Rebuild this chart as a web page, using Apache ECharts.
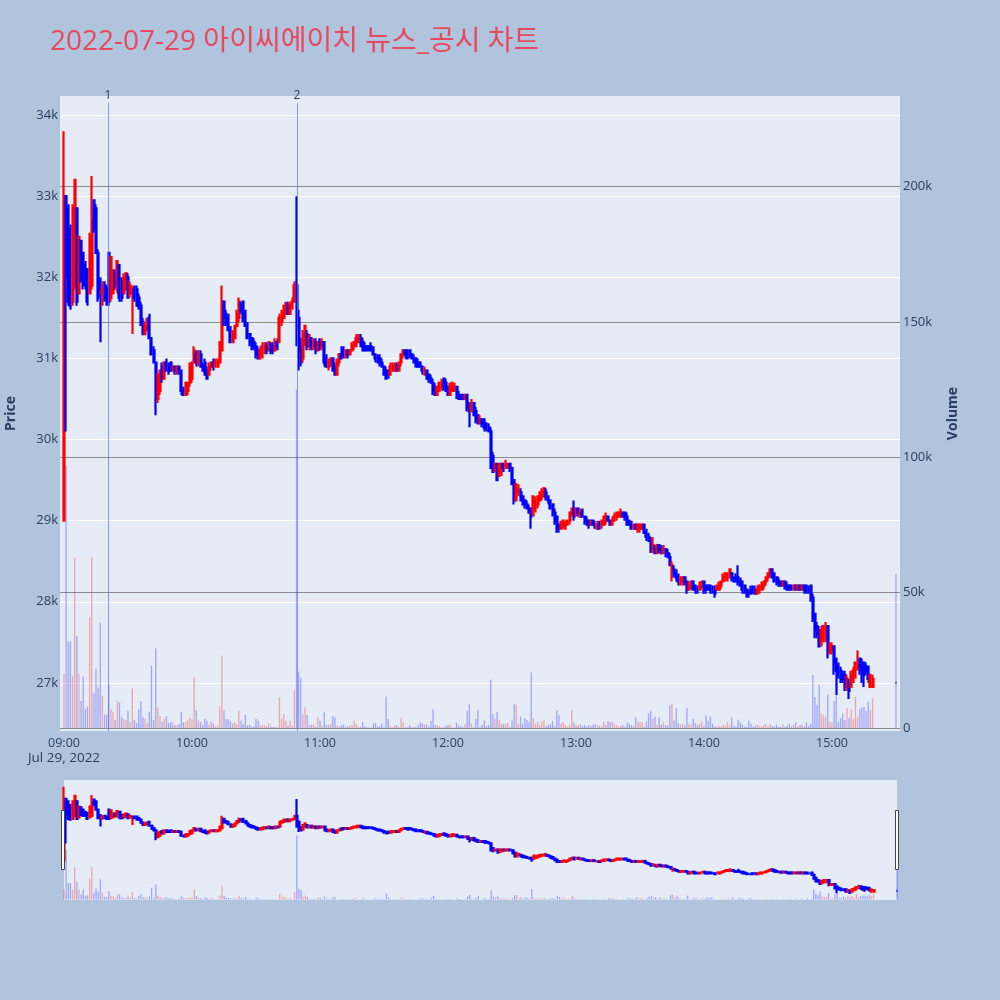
<!DOCTYPE html>
<html><head><meta charset="utf-8">
<script src="https://cdn.jsdelivr.net/npm/echarts@6/dist/echarts.min.js"></script>
<style>html,body{margin:0;padding:0;background:#b0c4de;}#main{width:1000px;height:1000px;}</style>
</head><body><div id="main"></div>
<script>
const titleText = '2022-07-29 아이씨에이치 뉴스_공시 차트';
const hourLabels = ['09:00','10:00','11:00','12:00','13:00','14:00','15:00'];
const dateLabel = 'Jul 29, 2022';
const priceTicks = [27000,28000,29000,30000,31000,32000,33000,34000];
const volumeTicks = [0,50000,100000,150000,200000];
const newsTimes = ['09:20:36','10:49:12'];
const newsLabels = ['1','2'];

// [open, close, low, high] per minute
const c09 = [
[29000,33000,29000,33800],[33000,32000,30100,33000],[32850,31700,31650,32900],[32600,31650,31600,32650],[31700,32850,31650,32900],
[31900,33200,31850,33200],[32850,31700,31650,32850],[31800,32500,31800,32500],[32450,31950,31950,32450],[32300,31900,31850,32300],
[32150,31900,31850,32200],[32100,31700,31650,32100],[31800,32500,31800,32550],[31900,32700,31850,33250],[32950,32600,32550,32950],
[32850,32300,32300,32900],[32300,31750,31700,32350],[31950,31850,31200,32000],[31800,31850,31650,31950],[31900,31750,31700,31950],
[31850,31700,31650,31900],[32300,31700,31650,32300],[31750,32250,31700,32250],[31800,32050,31800,32100],[32050,31900,31850,32100],
[31850,32200,31800,32200],[32150,31750,31700,32150],[31950,31750,31700,32000],[31800,32000,31800,32050],[31850,32050,31850,32050],
[32000,31750,31750,32050],[31800,31900,31750,31950],[31800,31850,31300,31900],[31850,31750,31700,31900],[31850,31650,31650,31900],
[31750,31650,31600,31800],[31650,31450,31400,31700],[31450,31300,31300,31500],[31300,31400,31300,31450],[31350,31450,31350,31500],
[31500,31250,31250,31550],[31250,31050,31050,31250],[31100,30950,30950,31150],[30950,30500,30300,30950],[30500,30800,30450,30800],
[30600,30850,30550,30850],[30900,30750,30700,30950],[30750,30950,30750,30950],[30950,30850,30850,31000],[30900,30850,30800,30950],
[30950,30850,30850,30950],[30850,30900,30850,30900],[30900,30850,30800,30900],[30850,30900,30800,30900],[30900,30850,30800,30900],
[30850,30600,30550,30850],[30600,30550,30550,30650],[30550,30700,30550,30700],[30600,30700,30550,30700],[30700,30900,30650,30950]];
const c10 = [
[30750,30950,30700,30950],[30950,31100,30950,31150],[31050,30950,30900,31100],[30950,31050,30900,31100],[31050,30900,30900,31100],
[30900,30850,30850,30950],[30950,30800,30800,31000],[30850,30750,30750,30900],[30800,30900,30800,30950],[30900,30950,30850,30950],
[30950,30900,30850,31000],[30900,30950,30900,31000],[30900,30950,30900,31000],[30950,31200,30950,31200],[31100,31700,31100,31900],
[31700,31500,31400,31700],[31550,31450,31400,31600],[31500,31350,31350,31550],[31350,31200,31200,31400],[31200,31300,31200,31350],
[31250,31400,31250,31400],[31400,31550,31400,31600],[31500,31700,31450,31750],[31650,31600,31550,31700],[31700,31500,31450,31700],
[31550,31400,31400,31600],[31400,31250,31250,31450],[31300,31200,31150,31300],[31250,31150,31100,31250],[31200,31150,31100,31250],
[31150,31050,31000,31200],[31100,31000,31000,31150],[31000,31100,31000,31150],[31050,31150,31000,31200],[31100,31150,31050,31200],
[31150,31100,31050,31200],[31100,31200,31100,31200],[31150,31100,31050,31200],[31150,31100,31050,31200],[31100,31200,31100,31250],
[31200,31150,31100,31250],[31200,31500,31200,31550],[31450,31550,31400,31600],[31500,31650,31500,31650],[31550,31650,31550,31700],
[31650,31550,31550,31700],[31550,31650,31550,31700],[31650,31700,31600,31750],[31700,31900,31700,31950],[31900,31200,31150,33000],
[31500,31100,30850,31600],[31150,30950,30900,31250],[31000,31300,30950,31350],[31200,31400,31150,31400],[31300,31150,31100,31350],
[31150,31250,31100,31300],[31250,31150,31100,31250],[31150,31200,31100,31250],[31200,31100,31050,31250],[31100,31200,31100,31200]];
const c11 = [
[31200,31150,31100,31250],[31150,31200,31100,31250],[31200,30950,30900,31200],[31000,30900,30900,31050],[30900,30950,30850,31000],
[30950,31000,30900,31000],[31000,30850,30850,31000],[30900,30800,30800,30950],[30800,30950,30800,31000],[30950,31050,30900,31050],
[31050,31000,31000,31150],[31100,31050,31000,31150],[31050,31100,31000,31100],[31100,31050,31000,31100],[31050,31100,31050,31100],
[31100,31150,31100,31200],[31150,31200,31100,31200],[31150,31250,31150,31300],[31200,31250,31200,31300],[31250,31150,31150,31300],
[31200,31100,31100,31250],[31150,31100,31100,31200],[31150,31100,31100,31150],[31150,31100,31100,31150],[31150,31100,31100,31200],
[31100,31050,31050,31150],[31050,31000,30950,31050],[31000,30950,30950,31050],[31000,30950,30900,31050],[30950,30900,30900,31000],
[30900,30800,30800,30900],[30850,30750,30750,30900],[30850,30800,30750,30850],[30800,30900,30800,30950],[30850,30900,30850,30950],
[30850,30900,30850,30950],[30900,30850,30850,30950],[30850,30950,30850,30950],[30950,31050,30900,31050],[31050,31100,31000,31100],
[31100,31050,31000,31100],[31100,31000,31000,31100],[31100,31050,31000,31100],[31050,31000,31000,31050],[31000,30950,30950,31050],
[31000,30900,30900,31000],[30950,30900,30900,31000],[30950,30900,30900,30950],[30900,30850,30800,30900],[30800,30850,30800,30900],
[30850,30750,30750,30850],[30800,30750,30700,30800],[30750,30700,30700,30800],[30700,30600,30550,30750],[30650,30550,30550,30700],
[30550,30650,30550,30650],[30600,30700,30600,30700],[30650,30700,30600,30750],[30750,30650,30600,30750],[30700,30600,30600,30750]];
const c12 = [
[30650,30550,30550,30650],[30550,30650,30550,30700],[30600,30700,30600,30700],[30600,30650,30600,30700],[30650,30550,30500,30650],
[30550,30500,30500,30600],[30550,30500,30500,30550],[30550,30500,30500,30550],[30500,30550,30500,30550],[30550,30400,30350,30550],
[30450,30350,30150,30450],[30350,30450,30350,30500],[30450,30300,30300,30450],[30350,30250,30200,30400],[30300,30200,30200,30300],
[30200,30250,30200,30300],[30250,30200,30150,30250],[30250,30150,30100,30250],[30200,30150,30100,30200],[30150,30100,30100,30200],
[30100,29650,29650,30150],[29800,29600,29600,29850],[29650,29700,29600,29700],[29700,29500,29500,29700],[29550,29700,29550,29700],
[29600,29700,29550,29700],[29700,29650,29600,29700],[29650,29700,29650,29750],[29650,29700,29650,29700],[29700,29650,29600,29700],
[29650,29450,29450,29650],[29500,29250,29200,29500],[29250,29450,29250,29450],[29350,29400,29300,29450],[29350,29250,29250,29400],
[29300,29200,29200,29300],[29250,29200,29150,29250],[29200,29150,29150,29250],[29150,29100,29100,29200],[29150,29050,28900,29150],
[29100,29300,29050,29300],[29150,29250,29100,29300],[29200,29300,29150,29300],[29250,29350,29250,29350],[29300,29350,29250,29400],
[29300,29400,29300,29400],[29350,29300,29250,29400],[29300,29250,29200,29300],[29250,29150,29150,29250],[29200,29100,29050,29200],
[29100,29000,28950,29150],[29050,28900,28850,29050],[28950,28900,28850,28950],[28900,28950,28900,29000],[28950,29000,28900,29000],
[28900,28950,28900,29000],[28950,29000,28950,29000],[29000,29100,28950,29100],[29100,29150,29050,29150],[29150,29050,29000,29250]];
const c13 = [
[29100,29150,29050,29150],[29150,29100,29050,29150],[29050,29100,29050,29150],[29100,29050,29050,29150],[29050,29000,28950,29050],
[29000,28950,28950,29050],[29000,28950,28900,29000],[28950,29000,28950,29000],[29000,28950,28950,29000],[28950,28950,28900,29000],
[28900,28950,28900,29000],[28950,28900,28900,29000],[28950,29000,28900,29000],[28950,29050,28950,29050],[29000,29050,28950,29100],
[29050,29000,29000,29050],[29000,28950,28950,29000],[28950,29000,28950,29050],[29000,29050,29000,29100],[29050,29100,29000,29100],
[29050,29100,29050,29100],[29050,29100,29050,29150],[29100,29050,29050,29100],[29100,29050,29000,29100],[29050,28950,28950,29100],
[29000,28950,28950,29000],[28950,28900,28900,29000],[28900,28950,28900,28950],[28950,28900,28900,28950],[28900,28950,28850,28950],
[28900,28950,28850,28950],[28900,28950,28900,28950],[28950,28850,28850,28950],[28850,28800,28750,28900],[28800,28750,28750,28850],
[28750,28650,28600,28800],[28650,28700,28600,28800],[28650,28600,28600,28700],[28600,28700,28600,28700],[28700,28650,28600,28700],
[28650,28600,28600,28700],[28600,28650,28600,28700],[28650,28600,28550,28650],[28600,28550,28550,28650],[28550,28450,28450,28600],
[28400,28450,28250,28500],[28400,28350,28300,28450],[28350,28300,28250,28400],[28300,28250,28200,28350],[28250,28300,28200,28300],
[28250,28300,28200,28300],[28300,28250,28200,28300],[28250,28150,28100,28250],[28150,28200,28150,28250],[28200,28250,28150,28250],
[28250,28150,28150,28250],[28200,28150,28100,28200],[28150,28150,28100,28200],[28150,28200,28150,28250],[28200,28250,28150,28250]];
const c14 = [
[28250,28150,28100,28250],[28200,28150,28100,28200],[28200,28150,28150,28200],[28200,28150,28100,28200],[28150,28150,28100,28200],
[28150,28100,28050,28200],[28150,28200,28150,28200],[28150,28200,28150,28250],[28200,28250,28150,28250],[28250,28300,28250,28350],
[28300,28350,28250,28350],[28300,28350,28250,28350],[28300,28400,28300,28400],[28350,28300,28250,28350],[28300,28250,28250,28300],
[28300,28250,28250,28350],[28300,28250,28200,28450],[28250,28200,28200,28300],[28250,28150,28100,28250],[28200,28150,28100,28200],
[28150,28100,28050,28150],[28100,28100,28050,28150],[28150,28100,28100,28200],[28150,28150,28100,28200],[28150,28100,28100,28200],
[28100,28150,28100,28200],[28150,28200,28100,28200],[28150,28200,28150,28250],[28200,28250,28150,28250],[28250,28300,28200,28300],
[28300,28350,28250,28350],[28350,28400,28300,28400],[28400,28300,28300,28400],[28350,28250,28250,28350],[28300,28250,28200,28300],
[28250,28200,28200,28300],[28250,28200,28200,28250],[28200,28250,28200,28250],[28250,28200,28150,28250],[28200,28150,28150,28250],
[28200,28150,28150,28200],[28200,28150,28150,28200],[28150,28200,28150,28200],[28200,28150,28150,28200],[28150,28200,28150,28200],
[28200,28150,28150,28200],[28150,28200,28150,28200],[28200,28150,28100,28200],[28200,28150,28100,28200],[28150,28150,28100,28200],
[28200,28050,28000,28200],[28050,27800,27750,28100],[27850,27650,27550,27850],[27700,27600,27550,27750],[27650,27450,27450,27700],
[27500,27650,27450,27700],[27550,27700,27500,27700],[27600,27700,27500,27750],[27700,27400,27300,27700],[27400,27450,27350,27500]];
const c15 = [
[27400,27450,27350,27500],[27450,27250,27100,27450],[27300,27150,26850,27300],[27200,27100,27050,27250],[27150,27050,27000,27200],
[27100,27050,27000,27150],[27100,26950,26900,27150],[26950,27050,26900,27100],[27000,26900,26800,27050],[26950,27100,26950,27150],
[27050,27150,27000,27200],[27100,27250,27050,27250],[27200,27250,27150,27400],[27300,27150,27100,27300],[27250,27100,27000,27300],
[27250,27100,26950,27250],[27200,27150,27100,27250],[27200,27050,27000,27200],[26950,27100,26950,27100],[26950,27050,26950,27100]];
const closeAuctionTime = '15:30';
const closeAuctionCandle = [27000,27000,27000,27000];

const v09 = [20000,97000,32000,32000,19000,63000,34000,20000,10000,19000,7000,8000,41000,63000,13000,22000,15000,39000,12000,5000,
5000,16000,7000,6000,3000,10000,9500,4000,3300,3000,6300,2100,14700,3000,1800,6900,10000,4200,3400,1800,
6000,23000,3000,29500,7500,4400,2200,3400,4400,1800,2100,2100,1000,1000,1500,5900,2100,2100,2800,3700];
const v10 = [3200,18800,6600,2800,2100,1000,3300,2800,1200,2600,1700,600,900,7900,26700,6600,3300,3300,2500,1800,
2200,1200,6300,2800,1500,4800,1000,1200,400,600,3300,2700,1100,1000,1000,600,1800,600,400,400,
300,11300,3400,5200,2700,900,2700,900,14000,125000,20900,18600,5200,7600,4800,1000,1200,1500,600,4000];
const v11 = [2700,900,5800,1100,1200,1500,4400,4000,900,600,900,1200,600,600,900,1000,2800,1500,600,400,
2200,600,200,200,200,1600,1800,700,700,1800,300,11600,3300,600,300,900,900,300,3800,2300,
300,300,1000,300,300,300,1100,2000,1700,1300,1300,500,2600,6900,1100,1000,700,300,300,700];
const v12 = [1000,1300,300,300,2000,800,700,300,1500,6300,8800,1700,300,3300,6700,500,1100,2700,700,1100,
17800,5200,3500,5900,3000,1700,1500,1500,2000,300,2800,8800,8800,1600,4200,1700,3600,3000,2200,20500,
3600,1500,2300,1200,2300,3000,700,1300,1300,2600,700,6700,4700,1700,2200,1100,500,1200,6600,2100];
const v13 = [1200,800,1500,800,1200,600,1000,800,1300,1500,1000,800,600,2400,1200,2500,2200,2400,1500,1100,
600,800,1000,500,2100,1600,1200,800,4000,2400,2200,2200,500,2400,5500,6200,3400,4300,1100,4000,
1200,2200,1100,800,8400,8800,2800,7300,1800,1200,1500,800,7400,1500,1200,3300,1800,1200,1600,2400];
const v14 = [700,4600,2600,4300,1600,600,500,800,600,1100,800,2200,1200,3900,800,600,3100,2100,1200,500,
500,2800,1600,500,800,1100,700,500,1100,1500,500,1500,800,500,1200,500,500,1500,500,800,
1600,500,1200,2100,500,1100,1200,600,2100,800,1500,19600,11500,8600,16000,5200,4800,4200,12400,2200];
const v15 = [2100,10000,12600,2400,3700,5300,3000,7300,3700,6900,3400,11500,4200,6900,7600,7900,6200,9700,6600,11000];
const closeAuctionVolume = 57000;

const hourBlocks = [['09:00',c09,v09],['10:00',c10,v10],['11:00',c11,v11],['12:00',c12,v12],['13:00',c13,v13],['14:00',c14,v14],['15:00',c15,v15]];

function toMin(s){ const p = s.split(':').map(Number); return (p[0]-9)*60 + p[1] + (p[2]||0)/60; }

const UP = '#ff0000', DOWN = '#0000ff';
const rows = [];
hourBlocks.forEach(([start, cs, vs]) => {
  const base = toMin(start);
  cs.forEach((c, i) => rows.push({t: base + i, ohlc: c, vol: vs[i]}));
});
rows.push({t: toMin(closeAuctionTime), ohlc: closeAuctionCandle, vol: closeAuctionVolume});

const candleData = rows.map(r => {
  const item = {value: [r.t].concat(r.ohlc)};
  if (r.ohlc[1] === r.ohlc[0]) item.itemStyle = {color: DOWN, color0: DOWN, borderColor: DOWN, borderColor0: DOWN};
  return item;
});
const volData = rows.map(r => ({
  value: [r.t, r.vol],
  itemStyle: {color: r.ohlc[1] > r.ohlc[0] ? 'rgba(255,0,0,0.3)' : 'rgba(0,0,255,0.3)'}
}));

const PMIN = 26407, PMAX = 34235, VMIN = -1100, VMAX = 233500;
const FONT = '"Open Sans", "Noto Sans CJK KR", sans-serif';
const TXT = '#2a3f5f';
const NEWS_COLOR = 'rgba(99,110,250,0.7)';

const candleStyle = {color: UP, color0: DOWN, borderColor: UP, borderColor0: DOWN, borderWidth: 2.2};

const chart = echarts.init(document.getElementById('main'));
chart.setOption({
  animation: false,
  backgroundColor: '#b0c4de',
  textStyle: {fontFamily: FONT},
  title: {text: titleText, left: 45, top: 23, textStyle: {fontSize: 28, fontWeight: 'normal', color: '#e8495f', fontFamily: FONT}},
  grid: [
    {left: 60, top: 96, width: 840, height: 635, show: true, backgroundColor: '#e5ecf6', borderWidth: 0, outerBoundsMode: 'none', containLabel: false},
    {left: 64, top: 780, width: 833, height: 120, show: true, backgroundColor: '#e5ecf6', borderWidth: 0, outerBoundsMode: 'none', containLabel: false}
  ],
  xAxis: [
    {type: 'value', gridIndex: 0, min: -1.875, max: 391.875,
     axisLine: {show: false}, axisTick: {show: false}, splitLine: {show: false},
     axisLabel: {customValues: hourLabels.map(toMin), color: TXT, fontSize: 12.5, margin: 5, lineHeight: 15,
       formatter: v => { const i = Math.round(v/60); return i === 0 ? hourLabels[i] + '\n{d|' + dateLabel + '}' : hourLabels[i]; },
       rich: {d: {fontSize: 13.5, color: TXT, lineHeight: 15, fontFamily: FONT}}}},
    {type: 'value', gridIndex: 1, min: 0, max: toMin(closeAuctionTime), show: false}
  ],
  yAxis: [
    {type: 'value', gridIndex: 0, position: 'left', min: PMIN, max: PMAX,
     name: 'Price', nameLocation: 'middle', nameRotate: 90, nameGap: 42,
     nameTextStyle: {fontWeight: 'bold', fontSize: 14, color: TXT},
     axisLine: {show: false}, axisTick: {show: false, customValues: priceTicks},
     axisLabel: {customValues: priceTicks, color: TXT, fontSize: 13, margin: 2, formatter: v => (v/1000) + 'k'},
     splitLine: {show: true, lineStyle: {color: '#ffffff', width: 1}}},
    {type: 'value', gridIndex: 0, position: 'right', min: VMIN, max: VMAX,
     name: 'Volume', nameLocation: 'middle', nameRotate: 90, nameGap: 46,
     nameTextStyle: {fontWeight: 'bold', fontSize: 14, color: TXT},
     axisLine: {show: false}, axisTick: {show: false, customValues: volumeTicks},
     axisLabel: {customValues: volumeTicks, color: TXT, fontSize: 13, margin: 3, formatter: v => v === 0 ? '0' : (v/1000) + 'k'},
     splitLine: {show: true, lineStyle: {color: '#8c8c8c', width: 1}}},
    {type: 'value', gridIndex: 1, min: PMIN, max: PMAX, show: false, splitLine: {show: false}},
    {type: 'value', gridIndex: 1, min: VMIN, max: VMAX, show: false, splitLine: {show: false}}
  ],
  series: [
    {type: 'bar', name: 'Volume', xAxisIndex: 0, yAxisIndex: 1, data: volData, barWidth: 1.3, encode: {x: 0, y: 1}, z: 1},
    {type: 'candlestick', name: 'Price', xAxisIndex: 0, yAxisIndex: 0, data: candleData, barWidth: 1.5, encode: {x: 0, y: [1,2,3,4]},
     itemStyle: candleStyle, z: 2,
     markLine: {silent: true, symbol: ['none','none'], animation: false,
       lineStyle: {color: NEWS_COLOR, width: 1, type: 'solid', opacity: 1},
       label: {show: true, position: 'end', formatter: '{b}', color: TXT, fontSize: 12, distance: 1},
       emphasis: {disabled: true},
       data: newsTimes.map((t, i) => [
         {coord: [toMin(t), PMIN], name: newsLabels[i], lineStyle: {color: NEWS_COLOR, width: 1, type: 'solid'}},
         {coord: [toMin(t), 34150]}])}},
    {type: 'bar', xAxisIndex: 1, yAxisIndex: 3, data: volData, barWidth: 1.3, encode: {x: 0, y: 1}, z: 1},
    {type: 'candlestick', xAxisIndex: 1, yAxisIndex: 2, data: candleData, barWidth: 1.5, encode: {x: 0, y: [1,2,3,4]}, itemStyle: candleStyle, z: 2}
  ],
  graphic: [
    {type: 'rect', shape: {x: 61.5, y: 810.5, width: 3, height: 59}, style: {fill: '#ffffff', stroke: '#444444', lineWidth: 1}, z: 100},
    {type: 'rect', shape: {x: 895.5, y: 810.5, width: 3, height: 59}, style: {fill: '#ffffff', stroke: '#444444', lineWidth: 1}, z: 100}
  ]
});
</script></body></html>
